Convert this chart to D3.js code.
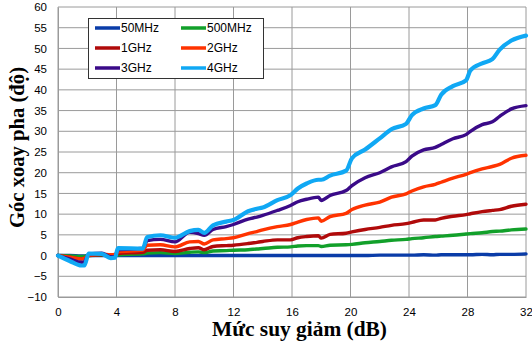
<!DOCTYPE html>
<html>
<head>
<meta charset="utf-8">
<script src="https://cdn.jsdelivr.net/npm/d3@7"></script>
<style>
  body { margin: 0; background: #fff; }
  svg { display: block; }
  .tick text { font-family: "Liberation Sans", Arial, sans-serif; font-size: 11.5px; fill: #000; }
  .title { font-family: "Liberation Serif", "Times New Roman", serif; font-weight: bold; font-size: 20px; }
  .legend text { font-family: "Liberation Sans", Arial, sans-serif; font-size: 12px; }
</style>
</head>
<body>
<svg id="chart" width="532" height="344"></svg>
<script>
// attenuation (dB)
const attenuation = [0, 0.8, 1.6, 1.8, 2.1, 3, 3.6, 3.9, 4.1, 5.8, 6.1, 7, 8, 9, 9.6, 10, 10.6, 11.5, 12, 13, 13.6, 14, 15, 15.9, 16.4, 17, 17.8, 18, 18.6, 19.7, 20.1, 21, 22, 22.8, 23.8, 24.2, 25, 25.8, 26.2, 27, 27.9, 28.2, 29, 29.7, 30.2, 31, 32];

// phase shift (degrees) per frequency
const f50MHz = [0, 0, -0.1, -0.1, 0, 0, 0, 0, 0, 0, 0, 0, 0, 0, 0, 0, 0, 0, 0, 0, 0, 0, 0, 0, 0, 0, 0, 0, 0, 0, 0, 0, 0.1, 0.1, 0.1, 0.1, 0.2, 0.1, 0.2, 0.2, 0.2, 0.2, 0.3, 0.2, 0.3, 0.3, 0.4];
const f500MHz = [0, -0.1, -0.2, -0.2, 0, 0.1, 0.1, 0.1, 0.2, 0.4, 0.6, 0.7, 0.5, 0.8, 0.9, 0.7, 1.1, 1.2, 1.3, 1.4, 1.6, 1.7, 2.0, 2.1, 2.3, 2.4, 2.4, 2.2, 2.5, 2.6, 2.7, 3.1, 3.4, 3.7, 3.9, 4.1, 4.3, 4.6, 4.7, 4.9, 5.2, 5.3, 5.5, 5.8, 5.9, 6.2, 6.4];
const f1GHz = [0, -0.4, -0.8, -0.7, 0, 0.2, 0.1, 0.2, 0.5, 0.8, 1.3, 1.4, 1.0, 1.7, 1.9, 1.4, 2.2, 2.4, 2.5, 2.9, 3.2, 3.4, 3.8, 3.8, 4.3, 4.6, 4.8, 4.2, 5.1, 5.4, 5.7, 6.3, 6.8, 7.3, 7.7, 8.0, 8.6, 8.6, 9.0, 9.5, 9.9, 10.1, 10.6, 10.9, 11.1, 11.9, 12.4];
const f2GHz = [0, -0.4, -0.8, -0.7, 0.1, 0.3, 0.2, 0.3, 0.9, 1.3, 2.5, 2.6, 2.1, 3.3, 3.4, 2.8, 3.8, 4.1, 4.3, 5.3, 5.8, 6.2, 7.0, 7.5, 8.1, 8.7, 9.1, 8.3, 9.4, 10.2, 11.1, 12.2, 12.9, 14.1, 14.9, 15.6, 16.6, 17.2, 17.7, 18.7, 19.6, 20.0, 20.9, 21.5, 22.0, 23.5, 24.2];
const f3GHz = [0, -0.8, -1.6, -1.5, 0.4, 0.6, -0.3, -0.2, 1.4, 1.8, 3.6, 3.9, 3.3, 5.6, 5.3, 4.9, 6.3, 7.0, 7.5, 8.8, 9.3, 9.7, 10.9, 12.1, 13.0, 13.6, 14.1, 13.3, 14.5, 15.7, 16.9, 18.8, 20.0, 21.4, 22.7, 24.0, 25.5, 26.1, 26.8, 28.2, 29.2, 30.0, 31.6, 32.3, 33.6, 35.4, 36.2];
const f4GHz = [0, -1.3, -2.4, -2.4, 0.5, 0.4, -0.6, -0.5, 1.8, 1.7, 4.5, 4.9, 4.3, 5.9, 6.2, 5.5, 7.3, 8.2, 8.6, 10.7, 11.3, 11.6, 13.4, 14.6, 16.2, 17.4, 18.3, 18.3, 19.3, 20.5, 23.5, 25.6, 28.3, 30.5, 31.8, 33.9, 35.5, 36.3, 38.8, 40.9, 42.3, 44.7, 46.4, 47.4, 49.7, 51.9, 53.1];

const seriesNames = ["50MHz", "500MHz", "1GHz", "2GHz", "3GHz", "4GHz"];
const seriesValues = [f50MHz, f500MHz, f1GHz, f2GHz, f3GHz, f4GHz];
const colors = ["#0a3ca8", "#12a02a", "#b00a0a", "#ff3300", "#3a0a88", "#10a8f4"];

const xTicks = [0, 4, 8, 12, 16, 20, 24, 28, 32];
const yTicks = [-10, -5, 0, 5, 10, 15, 20, 25, 30, 35, 40, 45, 50, 55, 60];

const margin = { left: 58, right: 6, top: 7, bottom: 47 };
const width = 532, height = 344;

const svg = d3.select("#chart");

const x = d3.scaleLinear().domain([0, 32]).range([margin.left, width - margin.right]);
const y = d3.scaleLinear().domain([-10, 60]).range([height - margin.bottom, margin.top]);

// grid
const grid = svg.append("g").attr("stroke", "#9a9a9a").attr("stroke-width", 1);
grid.selectAll("line.v")
  .data(xTicks)
  .join("line")
    .attr("x1", d => x(d)).attr("x2", d => x(d))
    .attr("y1", y(-10)).attr("y2", y(60));
grid.selectAll("line.h")
  .data(yTicks)
  .join("line")
    .attr("x1", x(0)).attr("x2", x(32))
    .attr("y1", d => y(d)).attr("y2", d => y(d));

// axes (labels only)
const xAxis = svg.append("g")
  .attr("transform", `translate(0,${y(-10)})`)
  .call(d3.axisBottom(x).tickValues(xTicks).tickSize(0).tickPadding(11));
xAxis.select(".domain").attr("stroke", "#9a9a9a");

const yAxis = svg.append("g")
  .attr("transform", `translate(${x(0)},0)`)
  .call(d3.axisLeft(y).tickValues(yTicks).tickSize(0).tickPadding(11));
yAxis.select(".domain").attr("stroke", "#9a9a9a");

// lines
const line = d3.line()
  .x((d, i) => x(attenuation[i]))
  .y(d => y(d))
  .curve(d3.curveMonotoneX);

svg.append("g")
  .attr("fill", "none")
  .attr("stroke-linejoin", "round")
  .attr("stroke-linecap", "round")
  .selectAll("path")
  .data(seriesValues)
  .join("path")
    .attr("stroke", (d, i) => colors[i])
    .attr("stroke-width", (d, i) => i === 5 ? 4.2 : 3.4)
    .attr("d", line);

// legend
const legend = svg.append("g").attr("class", "legend");
legend.append("rect")
  .attr("x", 88.5).attr("y", 18.5)
  .attr("width", 175).attr("height", 60)
  .attr("fill", "#fff").attr("stroke", "#333").attr("stroke-width", 1);

const item = legend.selectAll("g.item")
  .data(seriesNames)
  .join("g")
    .attr("transform", (d, i) => `translate(${95 + (i % 2) * 86},${28 + Math.floor(i / 2) * 20})`);
item.append("line")
  .attr("x1", 0).attr("x2", 25)
  .attr("stroke", (d, i) => colors[i])
  .attr("stroke-width", 3.5);
item.append("text")
  .attr("x", 26).attr("dy", "0.36em")
  .text(d => d);

// titles
svg.append("text")
  .attr("class", "title")
  .attr("x", 212)
  .attr("y", 336)
  .attr("textLength", 175)
  .attr("lengthAdjust", "spacingAndGlyphs")
  .text("Mức suy giảm (dB)");

svg.append("text")
  .attr("class", "title")
  .attr("transform", `translate(24,228) rotate(-90)`)
  .attr("textLength", 161)
  .attr("lengthAdjust", "spacingAndGlyphs")
  .text("Góc xoay pha (độ)");
</script>
</body>
</html>
